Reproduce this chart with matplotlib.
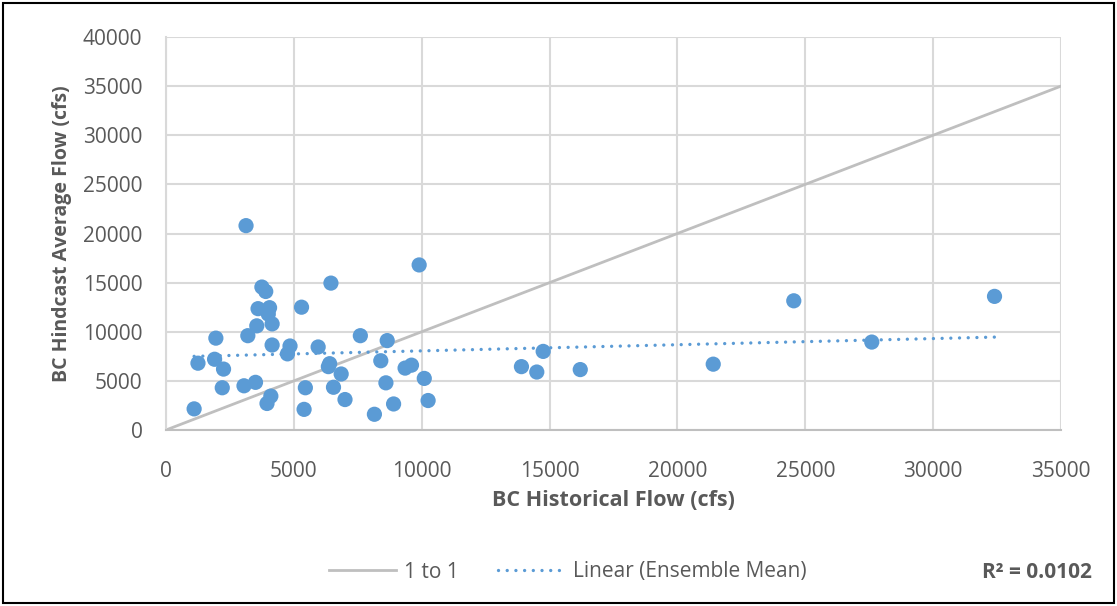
"""
Scatter of bias-corrected hindcast vs historical flow, with 1:1 line and
a linear trendline of the ensemble mean.
"""

import numpy as np
import matplotlib.pyplot as plt
from matplotlib.lines import Line2D
from matplotlib.patches import Rectangle

# ---------------------------------------------------------------------------
# DATA (cfs)
# ---------------------------------------------------------------------------
historical = [3130, 9900, 6450, 3750, 3900, 3600, 4050, 4000, 5300, 3550,
              4150, 1950, 3200, 7600, 8650, 4150, 4850, 4750, 5950, 1250,
              1900, 2250, 6400, 6350, 6850, 8400, 9350, 9600, 10100, 8600,
              2200, 3050, 3500, 5450, 6550, 4100, 3950, 7000, 8900, 10250,
              1100, 5400, 8150, 14750, 13900, 14500, 16200, 21400, 24550,
              27600, 32400]
hindcast = [20800, 16800, 14950, 14550, 14100, 12350, 12450, 11800, 12500, 10600,
            10800, 9350, 9600, 9600, 9100, 8650, 8550, 7750, 8450, 6800,
            7200, 6200, 6750, 6450, 5700, 7050, 6300, 6600, 5250, 4800,
            4300, 4500, 4850, 4300, 4350, 3450, 2700, 3100, 2650, 3000,
            2150, 2100, 1600, 8000, 6450, 5900, 6150, 6700, 13150,
            8950, 13600]
one_to_one = [0, 35000]
r2_label = "R² = 0.0102"

BLUE = "#5b9bd5"
GRAY_LINE = "#bfbfbf"
GRID = "#d9d9d9"
TEXT = "#595959"
DOTS = (0, (0.01, 2.6))   # round dots, Excel "round dot" style

plt.rcParams["font.family"] = ["Open Sans", "DejaVu Sans"]

fig = plt.figure(figsize=(11.17, 6.06), dpi=100)
ax = fig.add_axes([166 / 1117, 1 - 430 / 606, (1061 - 166) / 1117, (430 - 37) / 606])

# 1:1 reference line (behind the points)
ax.plot(one_to_one, one_to_one, color=GRAY_LINE, lw=2, zorder=2)

# observed points
ax.scatter(historical, hindcast, s=120, color=BLUE, edgecolors="none", zorder=3)

# linear trendline fitted to the points, spanning the data range
x = np.array(historical, dtype=float)
y = np.array(hindcast, dtype=float)
slope, intercept = np.polyfit(x, y, 1)
xt = np.array([x.min(), x.max()])
ax.plot(xt, slope * xt + intercept, color=BLUE, lw=2.4, ls=DOTS,
        dash_capstyle="round", zorder=4)

# axes styling
ax.set_xlim(0, 35000)
ax.set_ylim(0, 40000)
ax.set_xticks(np.arange(0, 35001, 5000))
ax.set_yticks(np.arange(0, 40001, 5000))
ax.grid(True, color=GRID, lw=1.5, zorder=0)
ax.set_axisbelow(True)
for side in ["top", "right"]:
    ax.spines[side].set_visible(False)
ax.spines["left"].set_color(GRID)
ax.spines["left"].set_linewidth(1.5)
ax.spines["bottom"].set_color(GRAY_LINE)
ax.spines["bottom"].set_linewidth(1.5)
ax.tick_params(length=0, labelsize=15, labelcolor=TEXT)
ax.tick_params(axis="x", pad=22)
ax.tick_params(axis="y", pad=17)

ax.set_xlabel("BC Historical Flow (cfs)", fontsize=15.5, fontweight="bold",
              color=TEXT, labelpad=6)
ax.set_ylabel("BC Hindcast Average Flow (cfs)", fontsize=14, fontweight="bold",
              color=TEXT, labelpad=8)

# legend along the bottom
handles = [Line2D([], [], color=GRAY_LINE, lw=2),
           Line2D([], [], color=BLUE, lw=2.4, ls=DOTS, dash_capstyle="round")]
fig.legend(handles, ["1 to 1", "Linear (Ensemble Mean)"], loc="center",
           bbox_to_anchor=(568 / 1117, 1 - 572 / 606), ncol=2, frameon=False,
           fontsize=15, labelcolor=TEXT, handlelength=3.2, handletextpad=0.4,
           columnspacing=1.9)

fig.text(1092 / 1117, 1 - 572 / 606, r2_label, ha="right", va="center",
         fontsize=15, fontweight="bold", color=TEXT)

# thin black frame around the whole chart
fig.patches.append(Rectangle((3 / 1117, 3 / 606), 1 - 6 / 1117, 1 - 6 / 606,
                             transform=fig.transFigure, fill=False,
                             edgecolor="black", lw=1.5))

fig.savefig("out.png", dpi=100)
